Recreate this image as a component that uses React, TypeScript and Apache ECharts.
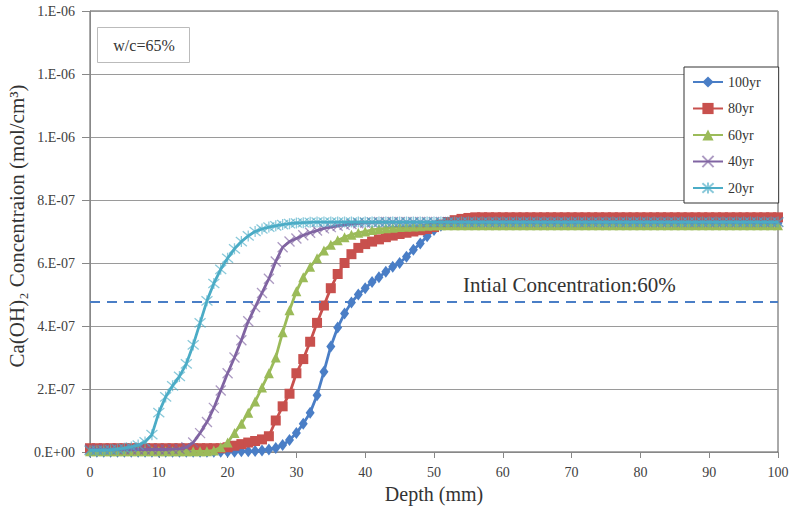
import React, { useEffect, useRef } from "react";
import * as echarts from "echarts";

// Depth (mm)
const depth = [
  0, 1, 2, 3, 4, 5, 6, 7, 8, 9, 10, 11, 12, 13, 14, 15, 16, 17, 18, 19,
  20, 21, 22, 23, 24, 25, 26, 27, 28, 29, 30, 31, 32, 33, 34, 35, 36, 37, 38, 39,
  40, 41, 42, 43, 44, 45, 46, 47, 48, 49, 50, 51, 52, 53, 54, 55, 56, 57, 58, 59,
  60, 61, 62, 63, 64, 65, 66, 67, 68, 69, 70, 71, 72, 73, 74, 75, 76, 77, 78, 79,
  80, 81, 82, 83, 84, 85, 86, 87, 88, 89, 90, 91, 92, 93, 94, 95, 96, 97, 98, 99, 100,
];

// Ca(OH)2 concentration, in units of 1E-07 mol/cm3
const conc100yr = [
  0.01, 0.01, 0.01, 0.01, 0.01, 0.01, 0.01, 0.01, 0.01, 0.01,
  0.01, 0.01, 0.01, 0.01, 0.01, 0.01, 0.01, 0.01, 0.01, 0.01,
  0.01, 0.01, 0.02, 0.02, 0.03, 0.05, 0.08, 0.13, 0.22, 0.38,
  0.6, 0.9, 1.25, 1.8, 2.55, 3.35, 3.95, 4.4, 4.75, 5.0,
  5.2, 5.4, 5.55, 5.72, 5.88, 6.0, 6.2, 6.42, 6.62, 6.85,
  7.05, 7.18, 7.25, 7.27, 7.27, 7.27, 7.27, 7.27, 7.27, 7.27,
  7.27, 7.27, 7.27, 7.27, 7.27, 7.27, 7.27, 7.27, 7.27, 7.27,
  7.27, 7.27, 7.27, 7.27, 7.27, 7.27, 7.27, 7.27, 7.27, 7.27,
  7.27, 7.27, 7.27, 7.27, 7.27, 7.27, 7.27, 7.27, 7.27, 7.27,
  7.27, 7.27, 7.27, 7.27, 7.27, 7.27, 7.27, 7.27, 7.27, 7.27,
  7.27,
];
const conc80yr = [
  0.12, 0.12, 0.12, 0.12, 0.12, 0.12, 0.12, 0.12, 0.12, 0.12,
  0.12, 0.12, 0.12, 0.12, 0.12, 0.12, 0.12, 0.12, 0.12, 0.12,
  0.15, 0.2, 0.25, 0.3, 0.35, 0.4, 0.5, 1.0, 1.45, 1.85,
  2.5, 2.95, 3.5, 4.1, 4.65, 5.2, 5.65, 6.0, 6.28, 6.48,
  6.6, 6.68, 6.75, 6.82, 6.87, 6.92, 6.96, 7.0, 7.04, 7.08,
  7.14, 7.22, 7.3, 7.36, 7.4, 7.43, 7.45, 7.45, 7.45, 7.45,
  7.45, 7.45, 7.45, 7.45, 7.45, 7.45, 7.45, 7.45, 7.45, 7.45,
  7.45, 7.45, 7.45, 7.45, 7.45, 7.45, 7.45, 7.45, 7.45, 7.45,
  7.45, 7.45, 7.45, 7.45, 7.45, 7.45, 7.45, 7.45, 7.45, 7.45,
  7.45, 7.45, 7.45, 7.45, 7.45, 7.45, 7.45, 7.45, 7.45, 7.45,
  7.45,
];
const conc60yr = [
  0.02, 0.02, 0.02, 0.02, 0.02, 0.02, 0.02, 0.02, 0.02, 0.02,
  0.02, 0.02, 0.02, 0.02, 0.02, 0.02, 0.02, 0.02, 0.05, 0.15,
  0.3, 0.6, 0.9, 1.25, 1.6, 2.05, 2.5, 3.0, 3.8, 4.5,
  5.1, 5.55, 5.88, 6.15, 6.4, 6.58, 6.72, 6.82, 6.9, 6.96,
  7.0, 7.05, 7.08, 7.1, 7.12, 7.14, 7.15, 7.16, 7.17, 7.18,
  7.19, 7.2, 7.2, 7.2, 7.2, 7.2, 7.2, 7.2, 7.2, 7.2,
  7.2, 7.2, 7.2, 7.2, 7.2, 7.2, 7.2, 7.2, 7.2, 7.2,
  7.2, 7.2, 7.2, 7.2, 7.2, 7.2, 7.2, 7.2, 7.2, 7.2,
  7.2, 7.2, 7.2, 7.2, 7.2, 7.2, 7.2, 7.2, 7.2, 7.2,
  7.2, 7.2, 7.2, 7.2, 7.2, 7.2, 7.2, 7.2, 7.2, 7.2,
  7.2,
];
const conc40yr = [
  0.08, 0.08, 0.08, 0.08, 0.08, 0.08, 0.08, 0.08, 0.08, 0.08,
  0.08, 0.08, 0.09, 0.1, 0.15, 0.3, 0.6, 0.95, 1.4, 1.95,
  2.5, 3.0, 3.55, 4.15, 4.6, 5.05, 5.5, 6.05, 6.5, 6.68,
  6.78, 6.88, 6.96, 7.03, 7.1, 7.14, 7.18, 7.21, 7.24, 7.26,
  7.28, 7.29, 7.3, 7.3, 7.3, 7.3, 7.3, 7.3, 7.3, 7.3,
  7.3, 7.3, 7.3, 7.3, 7.3, 7.3, 7.3, 7.3, 7.3, 7.3,
  7.3, 7.3, 7.3, 7.3, 7.3, 7.3, 7.3, 7.3, 7.3, 7.3,
  7.3, 7.3, 7.3, 7.3, 7.3, 7.3, 7.3, 7.3, 7.3, 7.3,
  7.3, 7.3, 7.3, 7.3, 7.3, 7.3, 7.3, 7.3, 7.3, 7.3,
  7.3, 7.3, 7.3, 7.3, 7.3, 7.3, 7.3, 7.3, 7.3, 7.3,
  7.3,
];
const conc20yr = [
  0.05, 0.05, 0.06, 0.07, 0.09, 0.12, 0.16, 0.22, 0.32, 0.55,
  1.25, 1.75, 2.1, 2.4, 2.8, 3.4, 4.1, 4.8, 5.35, 5.8,
  6.15, 6.45, 6.68, 6.86, 7.0, 7.08, 7.14, 7.18, 7.22, 7.25,
  7.27, 7.28, 7.29, 7.3, 7.3, 7.3, 7.3, 7.3, 7.3, 7.3,
  7.3, 7.3, 7.3, 7.3, 7.3, 7.3, 7.3, 7.3, 7.3, 7.3,
  7.3, 7.3, 7.3, 7.3, 7.3, 7.3, 7.3, 7.3, 7.3, 7.3,
  7.3, 7.3, 7.3, 7.3, 7.3, 7.3, 7.3, 7.3, 7.3, 7.3,
  7.3, 7.3, 7.3, 7.3, 7.3, 7.3, 7.3, 7.3, 7.3, 7.3,
  7.3, 7.3, 7.3, 7.3, 7.3, 7.3, 7.3, 7.3, 7.3, 7.3,
  7.3, 7.3, 7.3, 7.3, 7.3, 7.3, 7.3, 7.3, 7.3, 7.3,
  7.3,
];

const seriesNames = ["100yr", "80yr", "60yr", "40yr", "20yr"];
const initialConcentration = 4.76; // 1E-07 mol/cm3
const yTickLabels = ["0.E+00", "2.E-07", "4.E-07", "6.E-07", "8.E-07", "1.E-06", "1.E-06", "1.E-06"];

const FONT = "'Liberation Serif', 'Times New Roman', serif";

const pair = (ys: number[]) => depth.map((d, i) => [d, ys[i]]);

export default function App() {
  const ref = useRef<HTMLDivElement>(null);
  useEffect(() => {
    document.body.style.margin = "0";
    if (!ref.current) return;
    const chart = echarts.init(ref.current, null, { renderer: "svg" });
    const colors = ["#4A7EC6", "#C8504D", "#9BBB59", "#8064A2", "#4BACC6"];
    const symbols = [
      "diamond",
      "rect",
      "triangle",
      "path://M0,0L10,10M10,0L0,10",
      "path://M0,0L10,10M10,0L0,10M5,-1L5,11",
    ];
    const sizes: any[] = [[9, 12], 10, 10, 10, 11];
    const datas = [conc100yr, conc80yr, conc60yr, conc40yr, conc20yr];

    const series: any[] = seriesNames.map((name, k) => {
      const isStroke = k >= 3;
      const s: any = {
        name,
        type: "line",
        data: pair(datas[k]),
        symbol: symbols[k],
        symbolSize: sizes[k],
        showSymbol: true,
        color: colors[k],
        lineStyle: { color: colors[k], width: 2.8 },
        itemStyle: isStroke
          ? { color: colors[k], borderColor: colors[k], borderWidth: 1.3, opacity: 0.65 }
          : { color: colors[k], borderWidth: 0 },
        z: 2 + k,
      };
      if (k === 0) {
        s.markLine = {
          silent: true,
          symbol: "none",
          label: { show: false },
          lineStyle: { color: "#4A7EC6", type: [10, 7], width: 2 },
          data: [[{ coord: [0, initialConcentration] }, { coord: [100, initialConcentration] }]],
        };
      }
      return s;
    });

    chart.setOption({
      animation: false,
      backgroundColor: "#ffffff",
      textStyle: { fontFamily: FONT },
      grid: {
        left: 90,
        right: 16,
        top: 11,
        bottom: 60,
        show: true,
        borderColor: "#555",
        borderWidth: 1,
        backgroundColor: "transparent",
      },
      xAxis: {
        type: "value",
        min: 0,
        max: 100,
        interval: 10,
        axisLine: { show: true, lineStyle: { color: "#888", width: 1 } },
        axisTick: { show: true, inside: false, length: 6, lineStyle: { color: "#888" } },
        axisLabel: { color: "#404040", fontSize: 14, fontFamily: FONT, margin: 13 },
        splitLine: { show: false },
        name: "Depth (mm)",
        nameLocation: "middle",
        nameGap: 28,
        nameTextStyle: { color: "#333", fontSize: 20, fontFamily: FONT, verticalAlign: "top" },
      },
      yAxis: {
        type: "value",
        min: 0,
        max: 14,
        interval: 2,
        axisLine: { show: true, lineStyle: { color: "#888", width: 1 } },
        axisTick: { show: true, inside: false, length: 8, lineStyle: { color: "#888" } },
        axisLabel: {
          color: "#404040",
          fontSize: 14,
          fontFamily: FONT,
          margin: 15,
          formatter: (v: number) => yTickLabels[Math.round(v / 2)] ?? "",
        },
        splitLine: { show: true, lineStyle: { color: "#9a9a9a", width: 1 } },
      },
      legend: {
        orient: "vertical",
        left: 684,
        top: 67,
        data: seriesNames,
        itemWidth: 30,
        itemHeight: 14,
        itemGap: 12.5,
        padding: [8, 18, 8, 8],
        borderColor: "#333",
        borderWidth: 1,
        backgroundColor: "#fff",
        textStyle: { color: "#333", fontSize: 14, fontFamily: FONT },
      },
      graphic: [
        {
          type: "rect",
          left: 97,
          top: 27,
          shape: { width: 92, height: 35 },
          style: { fill: "#fff", stroke: "#bbb", lineWidth: 1 },
          z: 10,
        },
        {
          type: "text",
          x: 144,
          y: 45,
          style: {
            text: "w/c=65%",
            fill: "#333",
            font: `16px ${FONT}`,
            align: "center",
            verticalAlign: "middle",
          },
          z: 11,
        },
        {
          type: "text",
          x: 463,
          y: 285,
          style: {
            text: "Intial Concentration:60%",
            fill: "#333",
            font: `21px ${FONT}`,
            align: "left",
            verticalAlign: "middle",
          },
          z: 11,
        },
        {
          type: "text",
          x: 17,
          y: 226,
          rotation: Math.PI / 2,
          style: {
            text: "Ca(OH)\u2082 Concentraion (mol/cm\u00B3)",
            fill: "#333",
            font: `21px ${FONT}`,
            align: "center",
            verticalAlign: "middle",
          },
          z: 11,
        },
      ],
      series,
    });
    return () => chart.dispose();
  }, []);
  return <div ref={ref} style={{ width: 794, height: 512 }} />;
}
